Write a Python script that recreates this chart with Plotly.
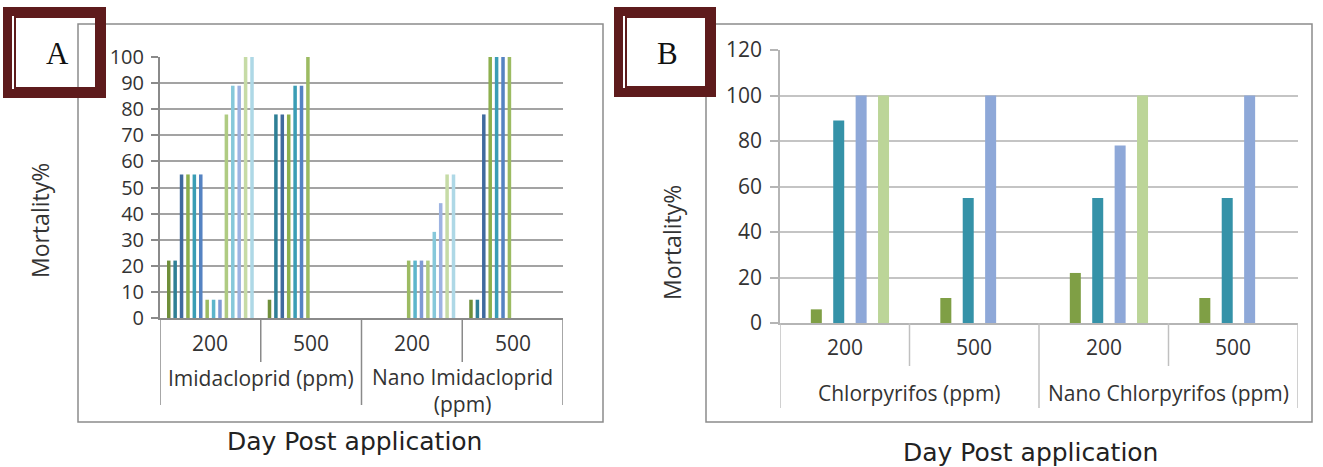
import plotly.graph_objects as go

W, H = 1323, 467

# ---------------- data ----------------
A_doses = ["200", "500", "200", "500"]
A_groups = ["Imidacloprid (ppm)", "Nano Imidacloprid<br>(ppm)"]
A_imid_200 = [22, 22, 55, 55, 55, 55, 7, 7, 7, 78, 89, 89, 100, 100]
A_imid_500 = [7, 78, 78, 78, 89, 89, 100, 0, 0, 0, 0, 0, 0, 0]
A_nano_200 = [0, 0, 0, 0, 0, 0, 22, 22, 22, 22, 33, 44, 55, 55]
A_nano_500 = [7, 7, 78, 100, 100, 100, 100, 0, 0, 0, 0, 0, 0, 0]
A_yticks = list(range(0, 101, 10))

B_doses = ["200", "500", "200", "500"]
B_groups = ["Chlorpyrifos (ppm)", "Nano Chlorpyrifos (ppm)"]
B_series1 = [6, 11, 22, 11]
B_series2 = [89, 55, 55, 55]
B_series3 = [100, 100, 78, 100]
B_series4 = [100, 0, 100, 0]
B_yticks = list(range(0, 121, 20))

y_title = "Mortality%"
x_title = "Day Post application"

# ---------------- styles ----------------
A_colors = ["#6F8F3A", "#2E7F95", "#3F6A9E", "#8DB04E", "#3A9DB5", "#5583C2",
            "#9CBB62", "#5CB5CB", "#7E9AD3", "#AFCB82", "#86C8DA", "#9DB3E2",
            "#C6DBA6", "#AED8E6"]
B_colors = ["#7F9F45", "#3592A8", "#8EA8D8", "#BCD598"]
MAROON = "#5E1B1C"
TXT = "#333333"
LBL_FONT = "Open Sans"


def fx(p):
    return p / W


def fy(p):
    return 1 - p / H


fig = go.Figure()

A_cats = list(range(len(A_doses)))
A_table = [A_imid_200, A_imid_500, A_nano_200, A_nano_500]
nA = len(A_imid_200)
groupA = 0.89
slotA = groupA / nA
bwA = slotA * 0.55
for k in range(nA):
    fig.add_trace(go.Bar(
        x=A_cats, y=[row[k] for row in A_table],
        xaxis="x", yaxis="y",
        width=bwA, offset=-groupA / 2 + k * slotA + (slotA - bwA) / 2,
        marker=dict(color=A_colors[k], line=dict(width=0)),
        name=f"A{k + 1}", showlegend=False,
    ))

B_cats = list(range(len(B_doses)))
B_list = [B_series1, B_series2, B_series3, B_series4]
nB = len(B_list)
slotB = 0.173
bwB = 0.085
shiftB = 0.04
for k, vals in enumerate(B_list):
    fig.add_trace(go.Bar(
        x=B_cats, y=vals, xaxis="x2", yaxis="y2",
        width=bwB, offset=shiftB - nB * slotB / 2 + k * slotB + (slotB - bwB) / 2,
        marker=dict(color=B_colors[k], line=dict(width=0)),
        name=f"B{k + 1}", showlegend=False,
    ))

fig.update_layout(
    template="none",
    width=W, height=H, autosize=False, showlegend=False,
    margin=dict(l=0, r=0, t=0, b=0, pad=0, autoexpand=False),
    paper_bgcolor="white", plot_bgcolor="white", barmode="overlay",
    xaxis=dict(domain=[fx(160), fx(563)], range=[-0.5, len(A_doses) - 0.5],
               showticklabels=False, showgrid=False, zeroline=False, automargin=False,
               ticks="", showline=True, linecolor="#8A8A8A", linewidth=2, anchor="y"),
    yaxis=dict(domain=[fy(318), fy(57)], range=[0, 100], tickvals=A_yticks,
               showgrid=True, gridcolor="#A3A3A3", gridwidth=2, zeroline=False,
               automargin=False,
               showline=True, linecolor="#8A8A8A", linewidth=2,
               ticks="outside", ticklen=7, tickcolor="#8A8A8A", tickwidth=1.5,
               ticklabelstandoff=3,
               tickfont=dict(family=LBL_FONT, size=20, color=TXT), anchor="x"),
    xaxis2=dict(domain=[fx(780), fx(1298)], range=[-0.5, len(B_doses) - 0.5],
                showticklabels=False, showgrid=False, zeroline=False, automargin=False,
                ticks="", showline=True, linecolor="#B5B5B5", linewidth=1.5, anchor="y2"),
    yaxis2=dict(domain=[fy(323), fy(50)], range=[0, 120], tickvals=B_yticks,
                showgrid=True, gridcolor="#C4C4C4", gridwidth=1.5, zeroline=False,
                automargin=False,
                showline=True, linecolor="#B5B5B5", linewidth=1.5,
                ticks="outside", ticklen=8, tickcolor="#B5B5B5", tickwidth=1.5,
                ticklabelstandoff=4,
                tickfont=dict(family=LBL_FONT, size=21, color=TXT), anchor="x2"),
)

shapes = []
annotations = []

for (x0, x1) in [(78, 603), (706, 1312)]:
    shapes.append(dict(type="rect", xref="paper", yref="paper",
                       x0=fx(x0), x1=fx(x1), y0=fy(422), y1=fy(24),
                       line=dict(color="#8C8C8C", width=1.5), layer="below"))


def add_cat_axis(xref, ncat, doses, groups, ybase, inner_bottom, outer_bottom,
                 dose_y, group_y, line_col, fsize):
    per = ncat // len(groups)
    for b in range(ncat + 1):
        pos = b - 0.5
        bottom = outer_bottom if b % per == 0 else inner_bottom
        shapes.append(dict(type="line", xref=xref, yref="paper",
                           x0=pos, x1=pos, y0=fy(ybase), y1=fy(bottom),
                           line=dict(color=line_col, width=1.5)))
    for i, d in enumerate(doses):
        annotations.append(dict(xref=xref, yref="paper", x=i, y=fy(dose_y),
                                text=d, showarrow=False, xanchor="center", yanchor="middle",
                                font=dict(family=LBL_FONT, size=fsize, color=TXT)))
    for g, name in enumerate(groups):
        center = g * per + (per - 1) / 2
        nlines = len(name.split("<br>"))
        annotations.append(dict(xref=xref, yref="paper", x=center,
                                y=fy(group_y + 12 * (nlines - 1)), text=name, showarrow=False,
                                xanchor="center", yanchor="middle", align="center",
                                font=dict(family=LBL_FONT, size=fsize, color=TXT)))


add_cat_axis("x", len(A_doses), A_doses, A_groups, 318, 362, 405, 343, 378, "#8A8A8A", 21)
add_cat_axis("x2", len(B_doses), B_doses, B_groups, 323, 366, 408, 347, 393, "#C0C0C0", 21)

for (x, y) in [(40, 221), (672, 243)]:
    annotations.append(dict(xref="paper", yref="paper", x=fx(x), y=fy(y),
                            text=y_title, textangle=-90, showarrow=False,
                            xanchor="center", yanchor="middle",
                            font=dict(family=LBL_FONT, size=23, color=TXT)))
for (x, y) in [(354, 441), (1030, 452)]:
    annotations.append(dict(xref="paper", yref="paper", x=fx(x), y=fy(y),
                            text=x_title, showarrow=False,
                            xanchor="center", yanchor="middle",
                            font=dict(family="DejaVu Sans", size=25, color="#222222")))

for (label, ox0, oy0, ox1, oy1, ix0, iy0, ix1, iy1, cx, cy) in [
        ("A", 3, 7, 106, 98, 15, 17, 96, 88, 57, 54),
        ("B", 614, 7, 716, 97, 626, 17, 706, 87, 668, 54)]:
    shapes.append(dict(type="rect", xref="paper", yref="paper",
                       x0=fx(ox0 + 4.5), x1=fx(ox1 - 4.5), y0=fy(oy1 - 4.5), y1=fy(oy0 + 4.5),
                       line=dict(color=MAROON, width=9), fillcolor="rgba(0,0,0,0)"))
    shapes.append(dict(type="rect", xref="paper", yref="paper",
                       x0=fx(ix0), x1=fx(ix1), y0=fy(iy1), y1=fy(iy0),
                       line=dict(color=MAROON, width=2), fillcolor="rgba(0,0,0,0)"))
    annotations.append(dict(xref="paper", yref="paper", x=fx(cx), y=fy(cy),
                            text=label, showarrow=False, xanchor="center", yanchor="middle",
                            font=dict(family="Liberation Serif", size=31, color="#111111")))

fig.update_layout(shapes=shapes, annotations=annotations)
fig.write_html("out.html")
